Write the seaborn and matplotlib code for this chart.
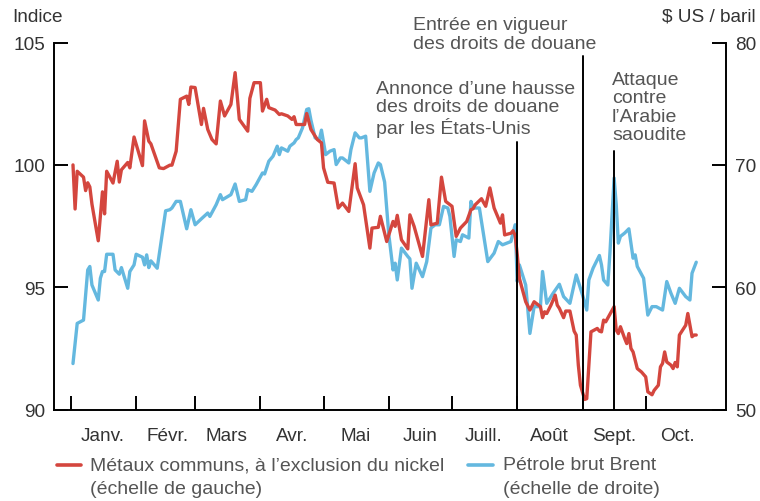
import pandas as pd
import matplotlib
matplotlib.use("Agg")
import matplotlib.pyplot as plt
from matplotlib.lines import Line2D
import seaborn as sns

# Métaux communs (indice, échelle de gauche)
metal_dates = [
    "2019-01-02", "2019-01-03", "2019-01-04", "2019-01-07", "2019-01-08", "2019-01-09",
    "2019-01-10", "2019-01-11", "2019-01-14", "2019-01-16", "2019-01-17", "2019-01-18",
    "2019-01-21", "2019-01-23", "2019-01-24", "2019-01-25", "2019-01-28", "2019-01-29",
    "2019-01-31", "2019-02-04", "2019-02-05", "2019-02-07", "2019-02-08", "2019-02-12",
    "2019-02-14", "2019-02-17", "2019-02-18", "2019-02-20", "2019-02-22", "2019-02-25",
    "2019-02-26", "2019-02-27", "2019-03-01", "2019-03-04", "2019-03-05", "2019-03-07",
    "2019-03-09", "2019-03-11", "2019-03-13", "2019-03-15", "2019-03-18", "2019-03-20",
    "2019-03-22", "2019-03-26", "2019-03-27", "2019-03-29", "2019-04-01", "2019-04-02",
    "2019-04-04", "2019-04-05", "2019-04-08", "2019-04-10", "2019-04-11", "2019-04-14",
    "2019-04-16", "2019-04-17", "2019-04-18", "2019-04-22", "2019-04-23", "2019-04-25",
    "2019-04-28", "2019-04-30", "2019-05-01", "2019-05-03", "2019-05-06", "2019-05-08",
    "2019-05-10", "2019-05-13", "2019-05-16", "2019-05-17", "2019-05-20", "2019-05-23",
    "2019-05-24", "2019-05-27", "2019-05-28", "2019-05-31", "2019-06-02", "2019-06-03",
    "2019-06-04", "2019-06-05", "2019-06-07", "2019-06-10", "2019-06-11", "2019-06-13",
    "2019-06-17", "2019-06-20", "2019-06-21", "2019-06-24", "2019-06-26", "2019-06-28",
    "2019-07-01", "2019-07-03", "2019-07-05", "2019-07-08", "2019-07-10", "2019-07-11",
    "2019-07-12", "2019-07-15", "2019-07-17", "2019-07-19", "2019-07-21", "2019-07-24",
    "2019-07-25", "2019-07-26", "2019-07-29", "2019-07-30", "2019-07-31", "2019-08-01",
    "2019-08-02", "2019-08-05", "2019-08-07", "2019-08-09", "2019-08-12", "2019-08-13",
    "2019-08-14", "2019-08-15", "2019-08-17", "2019-08-19", "2019-08-20", "2019-08-21",
    "2019-08-23", "2019-08-24", "2019-08-26", "2019-08-28", "2019-08-29", "2019-08-30",
    "2019-08-31", "2019-09-02", "2019-09-03", "2019-09-04", "2019-09-05", "2019-09-08",
    "2019-09-09", "2019-09-10", "2019-09-11", "2019-09-12", "2019-09-16", "2019-09-17",
    "2019-09-18", "2019-09-19", "2019-09-21", "2019-09-22", "2019-09-23", "2019-09-24",
    "2019-09-25", "2019-09-27", "2019-09-29", "2019-10-01", "2019-10-02", "2019-10-04",
    "2019-10-05", "2019-10-07", "2019-10-08", "2019-10-09", "2019-10-10", "2019-10-11",
    "2019-10-13", "2019-10-14", "2019-10-15", "2019-10-16", "2019-10-17", "2019-10-20",
    "2019-10-21", "2019-10-23", "2019-10-24", "2019-10-25",
]
metal_values = [
    100.0, 98.2, 99.74, 99.5, 98.95, 99.27,
    99.1, 98.4, 96.9, 98.9, 98.0, 99.74,
    99.26, 100.15, 99.3, 99.8, 100.1, 99.88,
    101.14, 99.97, 101.8, 100.97, 100.86, 99.88,
    99.85, 99.99, 99.99, 100.56, 102.68, 102.81,
    102.47, 103.18, 103.16, 101.65, 102.31, 101.45,
    101.04, 100.86, 102.61, 102.0, 102.47, 103.77,
    101.86, 101.38, 102.72, 103.36, 103.36, 102.2,
    102.68, 102.34, 102.24, 102.06, 102.09, 102.0,
    101.86, 101.97, 101.65, 101.65, 102.1, 101.45,
    101.04, 100.9, 99.88, 99.29, 99.26, 98.24,
    98.44, 98.1, 100.05, 99.06, 98.37, 96.6,
    97.42, 97.45, 97.9, 96.87, 97.42, 97.69,
    97.49, 97.94, 96.94, 96.57, 97.96, 97.49,
    96.26, 98.58, 97.55, 97.62, 99.5, 98.51,
    98.31, 97.08, 97.42, 97.69, 98.17, 98.21,
    98.37, 98.62, 98.31, 99.06, 98.24, 97.62,
    97.96, 97.14, 97.21, 97.31, 97.12, 96.33,
    95.37, 94.41, 94.07, 94.41, 94.21, 93.76,
    94.0, 93.93, 94.27, 94.68, 94.27, 94.14,
    93.76, 94.03, 94.03, 93.21, 93.05, 91.82,
    91.0, 90.42, 90.45, 91.82, 93.18, 93.32,
    93.21, 93.18, 93.66, 93.59, 94.21, 93.25,
    93.11, 93.39, 92.91, 92.7, 93.11, 92.5,
    92.36, 91.68, 91.54, 91.34, 90.73, 90.61,
    90.79, 91.0, 91.75, 91.89, 92.36, 91.95,
    91.82, 91.68, 91.93, 91.75, 93.05, 93.45,
    93.93, 92.98, 93.05, 93.05,
]

# Pétrole brut Brent ($ US / baril, échelle de droite)
brent_dates = [
    "2019-01-02", "2019-01-04", "2019-01-07", "2019-01-09", "2019-01-10", "2019-01-11",
    "2019-01-14", "2019-01-15", "2019-01-16", "2019-01-17", "2019-01-18", "2019-01-21",
    "2019-01-22", "2019-01-24", "2019-01-25", "2019-01-28", "2019-01-29", "2019-01-31",
    "2019-02-01", "2019-02-04", "2019-02-05", "2019-02-06", "2019-02-07", "2019-02-08",
    "2019-02-11", "2019-02-15", "2019-02-17", "2019-02-18", "2019-02-20", "2019-02-22",
    "2019-02-25", "2019-02-27", "2019-03-01", "2019-03-04", "2019-03-07", "2019-03-08",
    "2019-03-11", "2019-03-13", "2019-03-14", "2019-03-18", "2019-03-20", "2019-03-22",
    "2019-03-25", "2019-03-26", "2019-03-28", "2019-03-30", "2019-04-02", "2019-04-03",
    "2019-04-05", "2019-04-07", "2019-04-09", "2019-04-10", "2019-04-11", "2019-04-14",
    "2019-04-15", "2019-04-17", "2019-04-18", "2019-04-19", "2019-04-21", "2019-04-23",
    "2019-04-24", "2019-04-25", "2019-04-27", "2019-04-29", "2019-04-30", "2019-05-02",
    "2019-05-04", "2019-05-06", "2019-05-07", "2019-05-09", "2019-05-10", "2019-05-13",
    "2019-05-14", "2019-05-16", "2019-05-18", "2019-05-19", "2019-05-21", "2019-05-23",
    "2019-05-25", "2019-05-27", "2019-05-28", "2019-05-30", "2019-06-01", "2019-06-03",
    "2019-06-04", "2019-06-05", "2019-06-07", "2019-06-10", "2019-06-11", "2019-06-12",
    "2019-06-14", "2019-06-17", "2019-06-19", "2019-06-21", "2019-06-23", "2019-06-25",
    "2019-06-27", "2019-06-29", "2019-06-30", "2019-07-02", "2019-07-03", "2019-07-05",
    "2019-07-06", "2019-07-09", "2019-07-10", "2019-07-11", "2019-07-14", "2019-07-16",
    "2019-07-18", "2019-07-21", "2019-07-23", "2019-07-25", "2019-07-29", "2019-07-31",
    "2019-08-01", "2019-08-02", "2019-08-05", "2019-08-07", "2019-08-09", "2019-08-12",
    "2019-08-13", "2019-08-15", "2019-08-18", "2019-08-21", "2019-08-23", "2019-08-26",
    "2019-08-29", "2019-09-01", "2019-09-03", "2019-09-04", "2019-09-06", "2019-09-09",
    "2019-09-10", "2019-09-11", "2019-09-13", "2019-09-14", "2019-09-16", "2019-09-17",
    "2019-09-18", "2019-09-19", "2019-09-21", "2019-09-23", "2019-09-25", "2019-09-26",
    "2019-09-27", "2019-09-30", "2019-10-02", "2019-10-04", "2019-10-06", "2019-10-09",
    "2019-10-11", "2019-10-13", "2019-10-15", "2019-10-17", "2019-10-20", "2019-10-22",
    "2019-10-23", "2019-10-25",
]
brent_values = [
    53.77, 57.05, 57.32, 61.42, 61.7, 60.19,
    58.96, 60.74, 61.29, 61.29, 62.7, 62.7,
    61.42, 61.07, 61.61, 59.92, 61.29, 61.83,
    62.7, 62.46, 61.83, 62.65, 61.61, 62.16,
    61.56, 66.25, 66.34, 66.48, 67.02, 67.02,
    64.78, 66.34, 65.11, 65.6, 66.07, 65.79,
    66.75, 67.57, 67.16, 67.57, 68.44, 67.02,
    67.16, 67.98, 67.84, 68.39, 69.34, 69.26,
    70.3, 70.71, 71.53, 70.84, 71.39, 71.12,
    71.53, 71.8, 72.07, 72.21, 73.03, 74.53,
    74.59, 73.66, 72.21, 72.07, 72.84, 70.84,
    71.12, 71.25, 70.03, 70.57, 70.57, 70.16,
    71.25, 72.62, 72.21, 72.21, 72.35, 67.84,
    69.34, 70.16, 70.03, 68.6, 64.29, 61.42,
    61.97, 60.6, 63.2, 62.52, 62.32, 59.92,
    61.97, 60.87, 62.1, 64.84, 65.11, 65.11,
    66.61, 66.48, 65.79, 62.52, 63.88, 63.74,
    64.29, 64.02, 67.02, 66.48, 66.48, 64.29,
    62.1, 62.79, 63.74, 63.47, 63.74, 65.11,
    60.47, 61.83, 60.19, 56.23, 58.42, 58.42,
    61.29, 58.69, 59.51, 60.25, 59.24, 58.69,
    61.01, 59.37, 58.14, 60.6, 61.56, 62.6,
    61.83, 60.6, 60.19, 62.79, 68.93, 66.75,
    63.61, 64.16, 64.43, 64.78, 62.38, 62.65,
    61.7, 60.74, 57.73, 58.42, 58.42, 58.14,
    60.47, 59.51, 58.69, 59.92, 59.24, 58.96,
    61.15, 62.05,
]

month_labels = ["Janv.", "Févr.", "Mars", "Avr.", "Mai", "Juin",
                "Juill.", "Août", "Sept.", "Oct."]
left_ticks = [90, 95, 100, 105]
right_ticks = [50, 60, 70, 80]

event_dates = ["2019-08-01", "2019-09-01", "2019-09-16"]
event_labels = [
    "Annonce d\u2019une hausse\ndes droits de douane\npar les États-Unis",
    "Entrée en vigueur\ndes droits de douane",
    "Attaque\ncontre\nl\u2019Arabie\nsaoudite",
]

RED = "#d4463e"
BLUE = "#64b8df"
TXT = "#333333"
GREY = "#555555"
FS = 14

metals = pd.DataFrame({"date": pd.to_datetime(metal_dates), "value": metal_values})
brent = pd.DataFrame({"date": pd.to_datetime(brent_dates), "value": brent_values})

sns.set_style("ticks")
plt.rcParams["font.family"] = ["Liberation Sans", "DejaVu Sans"]

fig = plt.figure(figsize=(7.6, 5.02), dpi=100)
ax = fig.add_axes([0.0711, 0.1819, 0.8838, 0.7314])
ax2 = ax.twinx()

sns.lineplot(data=brent, x="date", y="value", ax=ax2, color=BLUE, linewidth=2.4)
sns.lineplot(data=metals, x="date", y="value", ax=ax, color=RED, linewidth=2.4)

# metals drawn above the brent line
ax.set_zorder(ax2.get_zorder() + 1)
ax.patch.set_visible(False)

ax.set_xlim(pd.Timestamp("2018-12-24"), pd.Timestamp("2019-11-08"))
ax.set_ylim(90, 105)
ax2.set_ylim(50, 80)
ax.set_yticks(left_ticks)
ax2.set_yticks(right_ticks)
ax.set_xlabel("")
ax.set_ylabel("")
ax2.set_ylabel("")

month_starts = pd.date_range("2019-01-01", periods=len(month_labels), freq="MS")
ax.set_xticks(month_starts)
ax.set_xticklabels([])
ax.set_xticks(month_starts + pd.Timedelta(days=15), minor=True)
ax.set_xticklabels(month_labels, minor=True)

ax.tick_params(axis="x", which="major", direction="in", length=10, width=1.4, color="black")
ax.tick_params(axis="x", which="minor", length=0, pad=12.5, labelsize=FS - 0.3,
               labelcolor=TXT)
ax.tick_params(axis="y", direction="in", length=10, width=1.4, pad=6.5,
               labelsize=FS - 0.3, labelcolor=TXT, color="black")
ax2.tick_params(axis="y", direction="in", length=10, width=1.4, pad=6.5,
                labelsize=FS - 0.3, labelcolor=TXT, color="black")

for a in (ax, ax2):
    for s in a.spines.values():
        s.set_color("black")
        s.set_linewidth(1.4)
    a.spines["top"].set_visible(False)
ax.spines["right"].set_visible(False)
ax2.spines["left"].set_visible(False)
ax2.spines["bottom"].set_visible(False)

# event markers
line_tops = [0.728, 0.963, 0.704]
for d, top in zip(event_dates, line_tops):
    ax.axvline(pd.Timestamp(d), ymin=0, ymax=top, color="black", lw=1.4, zorder=5)

fig.text(376 / 760, 1 - 109.5 / 502, event_labels[0], ha="left", va="center",
         fontsize=FS, color=GREY, linespacing=1.08)
fig.text(413 / 760, 1 - 35 / 502, event_labels[1], ha="left", va="center",
         fontsize=FS, color=GREY, linespacing=1.08)
fig.text(612 / 760, 1 - 108 / 502, event_labels[2], ha="left", va="center",
         fontsize=FS, color=GREY, linespacing=1.08)

fig.text(12 / 760, 1 - 17 / 502, "Indice", ha="left", va="center", fontsize=FS - 0.3,
         color=TXT)
fig.text(756 / 760, 1 - 17 / 502, "$ US / baril", ha="right", va="center",
         fontsize=FS - 0.3, color=TXT)

# legend, drawn by hand to keep the two-line layout
fig.add_artist(Line2D([57 / 760, 81 / 760], [1 - 466 / 502] * 2, color=RED, lw=2.6,
                      transform=fig.transFigure))
fig.add_artist(Line2D([468 / 760, 493 / 760], [1 - 466 / 502] * 2, color=BLUE, lw=2.6,
                      transform=fig.transFigure))
fig.text(90 / 760, 1 - 466 / 502, "Métaux communs, à l\u2019exclusion du nickel",
         ha="left", va="center", fontsize=FS, color=GREY)
fig.text(90 / 760, 1 - 490 / 502, "(échelle de gauche)",
         ha="left", va="center", fontsize=FS, color=GREY)
fig.text(503 / 760, 1 - 466 / 502, "Pétrole brut Brent",
         ha="left", va="center", fontsize=FS, color=GREY)
fig.text(503 / 760, 1 - 490 / 502, "(échelle de droite)",
         ha="left", va="center", fontsize=FS, color=GREY)

fig.savefig("out.png", dpi=100)
